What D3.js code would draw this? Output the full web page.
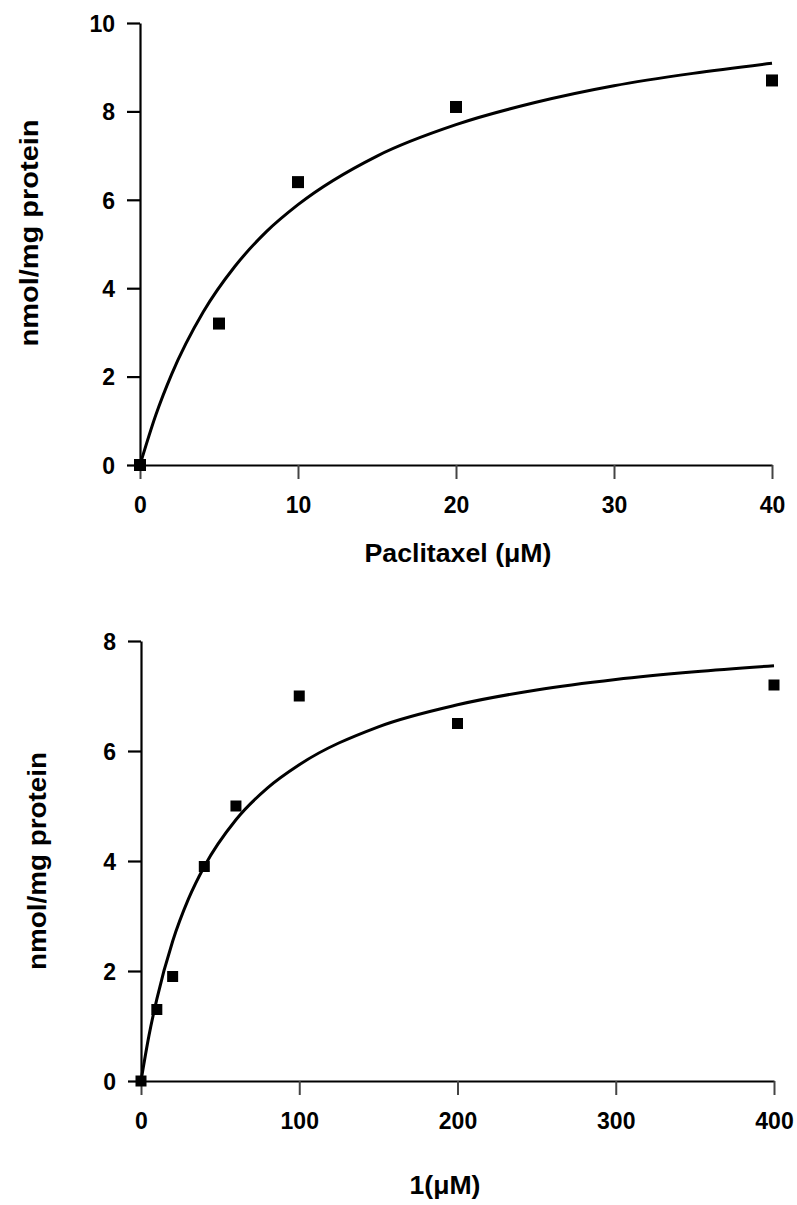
<!DOCTYPE html>
<html>
<head>
<meta charset="utf-8">
<script src="https://cdn.jsdelivr.net/npm/d3@7"></script>
<style>
  body { margin: 0; background: #fff; }
  svg { display: block; }
  text { font-family: "Liberation Sans", Arial, sans-serif; font-weight: bold; fill: #000; }
</style>
</head>
<body>
<svg id="chart" width="797" height="1205"></svg>
<script>
// panel A: paclitaxel
const paclitaxelDose = [0, 5, 10, 20, 40]
const paclitaxelUptake = [0, 3.2, 6.4, 8.1, 8.7]
const paclitaxelFitX = [0, 1, 2, 4, 6, 8, 10, 15, 20, 25, 30, 35, 40]
const paclitaxelFitY = [0, 1.13, 2.05, 3.46, 4.49, 5.28, 5.89, 6.99, 7.70, 8.20, 8.58, 8.86, 9.09]
const paclitaxelXTicks = [0, 10, 20, 30, 40]
const paclitaxelYTicks = [0, 2, 4, 6, 8, 10]

// panel B: compound 1
const cmpdDose = [0, 10, 20, 40, 60, 100, 200, 400]
const cmpdUptake = [0, 1.3, 1.9, 3.9, 5.0, 7.0, 6.5, 7.2]
const cmpdFitX = [0, 5, 10, 20, 30, 40, 60, 80, 100, 150, 200, 250, 300, 350, 400]
const cmpdFitY = [0, 0.82, 1.49, 2.54, 3.31, 3.90, 4.75, 5.33, 5.75, 6.44, 6.84, 7.11, 7.30, 7.44, 7.55]
const cmpdXTicks = [0, 100, 200, 300, 400]
const cmpdYTicks = [0, 2, 4, 6, 8]

const svg = d3.select('#chart')

function panel (opt) {
  const x = d3.scaleLinear().domain(opt.xDomain).range(opt.xRange)
  const y = d3.scaleLinear().domain(opt.yDomain).range(opt.yRange)
  const g = svg.append('g')

  const yAxis = g.append('g')
    .attr('transform', `translate(${opt.xRange[0]},0)`)
    .call(d3.axisLeft(y).tickValues(opt.yTicks).tickSize(13).tickSizeOuter(0).tickPadding(12))
  const xAxis = g.append('g')
    .attr('transform', `translate(0,${opt.yRange[0]})`)
    .call(d3.axisBottom(x).tickValues(opt.xTicks).tickSize(14).tickSizeOuter(0).tickPadding(18))

  g.selectAll('.domain').attr('stroke', '#000').attr('stroke-width', 2.2)
  yAxis.selectAll('.tick line').attr('stroke', '#000').attr('stroke-width', 2.2)
  xAxis.selectAll('.tick line').attr('stroke', '#444').attr('stroke-width', 2)
  g.selectAll('.tick text').attr('font-size', 23).attr('font-family', null)
  yAxis.selectAll('.tick text').attr('dy', '0.36em')

  const fit = opt.fitX.map((v, i) => [v, opt.fitY[i]])
  g.append('path')
    .datum(fit)
    .attr('fill', 'none')
    .attr('stroke', '#000')
    .attr('stroke-width', 3)
    .attr('d', d3.line().x(d => x(d[0])).y(d => y(d[1])).curve(d3.curveMonotoneX))

  const pts = opt.dose.map((v, i) => [v, opt.uptake[i]])
  const s = opt.marker
  g.selectAll('rect.pt')
    .data(pts)
    .join('rect')
    .attr('class', 'pt')
    .attr('x', d => x(d[0]) - s / 2)
    .attr('y', d => y(d[1]) - s / 2)
    .attr('width', s)
    .attr('height', s)
    .attr('fill', '#000')

  g.append('text')
    .attr('x', opt.xLabelPos[0])
    .attr('y', opt.xLabelPos[1])
    .attr('text-anchor', 'middle')
    .attr('font-size', 25)
    .attr('textLength', opt.xLabelLen)
    .attr('lengthAdjust', 'spacingAndGlyphs')
    .text(opt.xLabel)

  g.append('text')
    .attr('transform', `translate(${opt.yLabelPos[0]},${opt.yLabelPos[1]}) rotate(-90)`)
    .attr('text-anchor', 'middle')
    .attr('font-size', 25)
    .attr('textLength', opt.yLabelLen)
    .attr('lengthAdjust', 'spacingAndGlyphs')
    .text('nmol/mg protein')
}

panel({
  xDomain: [0, 40], xRange: [140, 772],
  yDomain: [0, 10], yRange: [465, 23],
  xTicks: paclitaxelXTicks, yTicks: paclitaxelYTicks,
  dose: paclitaxelDose, uptake: paclitaxelUptake,
  fitX: paclitaxelFitX, fitY: paclitaxelFitY,
  marker: 12,
  xLabel: 'Paclitaxel (\u03bcM)', xLabelPos: [458, 562], xLabelLen: 187,
  yLabelPos: [38, 233], yLabelLen: 227
})

panel({
  xDomain: [0, 400], xRange: [141, 774],
  yDomain: [0, 8], yRange: [1081, 641],
  xTicks: cmpdXTicks, yTicks: cmpdYTicks,
  dose: cmpdDose, uptake: cmpdUptake,
  fitX: cmpdFitX, fitY: cmpdFitY,
  marker: 11,
  xLabel: '1(\u03bcM)', xLabelPos: [445, 1194], xLabelLen: 71,
  yLabelPos: [46, 861], yLabelLen: 218
})
</script>
</body>
</html>
